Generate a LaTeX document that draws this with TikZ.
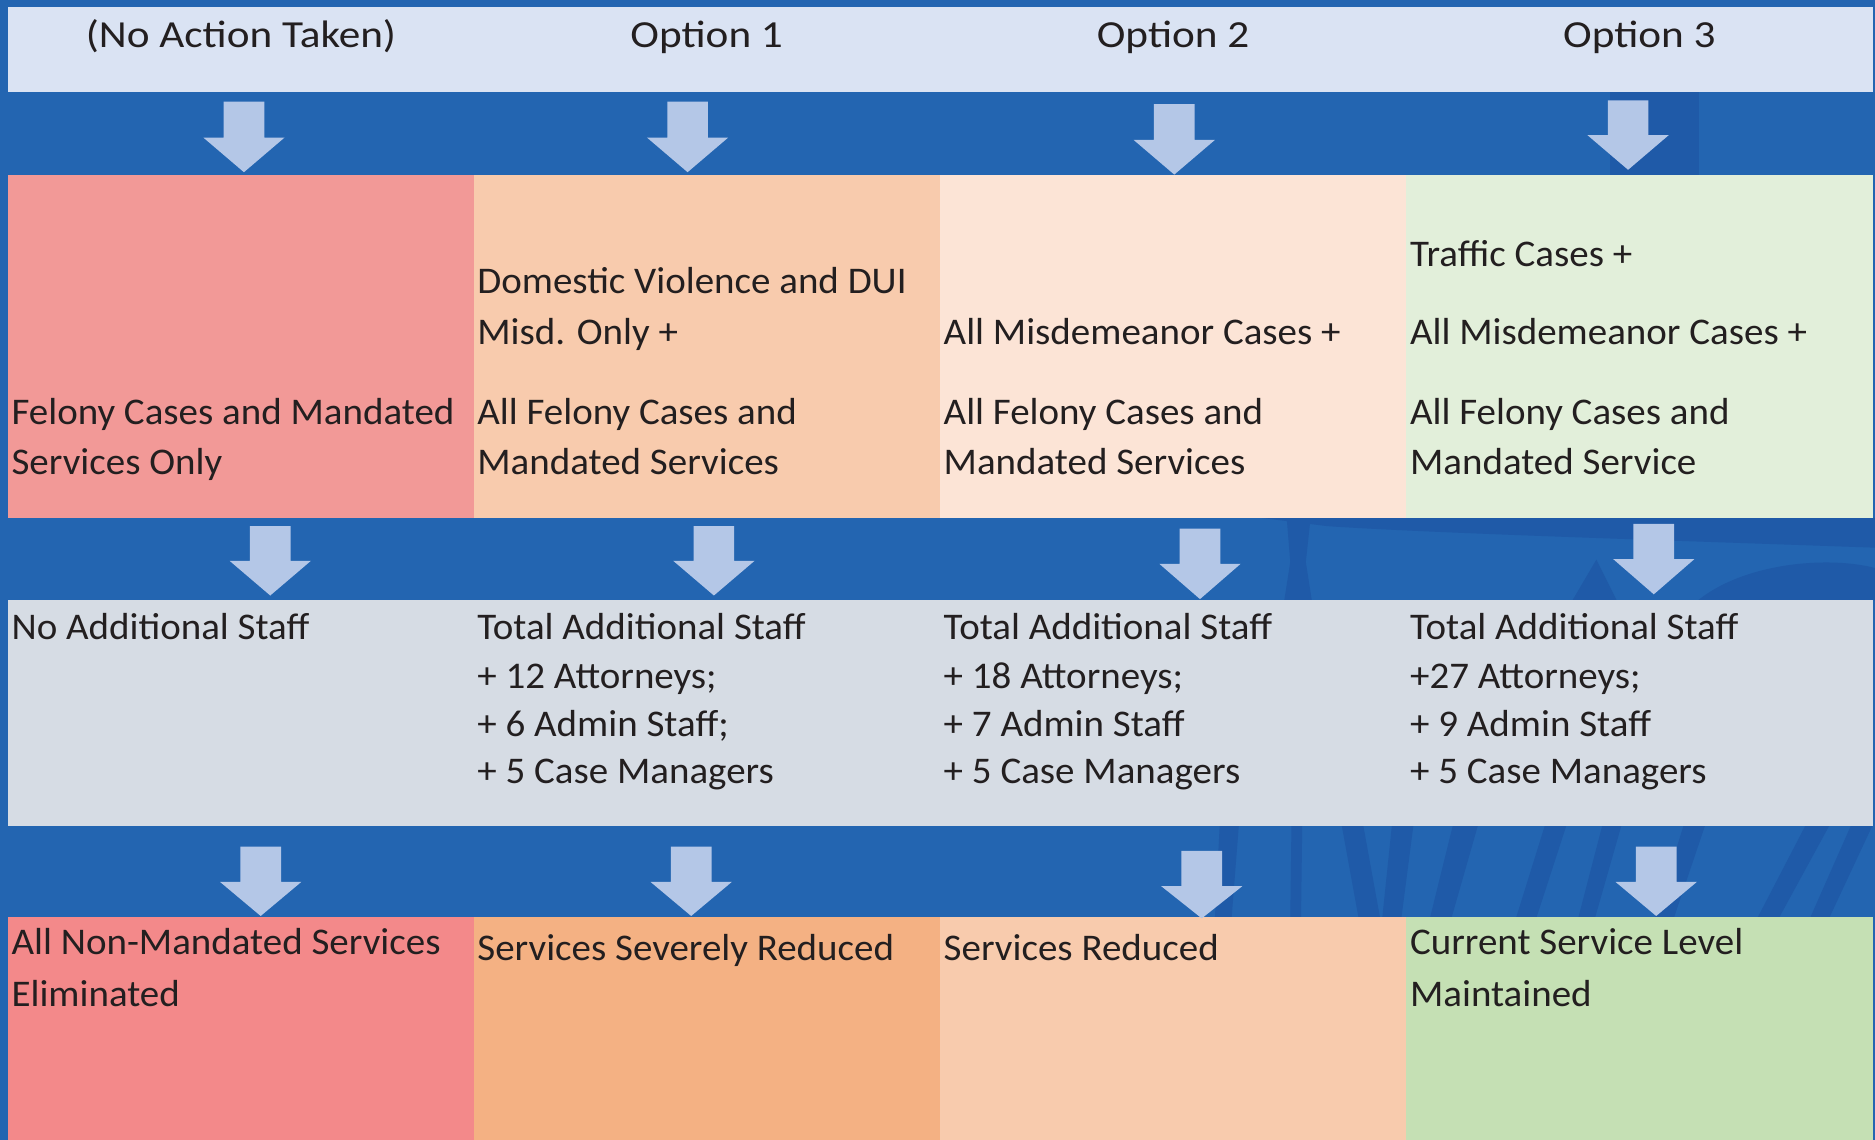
\documentclass[tikz,border=0pt]{standalone}
\usepackage{fontspec}
\setmainfont{Carlito}
\newfontfamily\bodyfont[FakeStretch=1.035]{Carlito}
\newfontfamily\hdrfont[FakeStretch=1.13]{Carlito}
\definecolor{bg}{HTML}{2365B1}
\definecolor{wm}{HTML}{1F5AA8}
\definecolor{hdr}{HTML}{DAE3F3}
\definecolor{arr}{HTML}{B4C7E7}
\definecolor{ink}{HTML}{231F20}
\definecolor{rA}{HTML}{F29997}
\definecolor{rB}{HTML}{F8CBAD}
\definecolor{rC}{HTML}{FCE4D6}
\definecolor{rD}{HTML}{E2EFDA}
\definecolor{gr}{HTML}{D6DCE4}
\definecolor{oA}{HTML}{F3898A}
\definecolor{oB}{HTML}{F4B183}
\definecolor{oC}{HTML}{F8CBAD}
\definecolor{oD}{HTML}{C5E0B4}
\newcommand\dnarrow[4]{\fill[blk] (#1-17,#2) -- (#1+17,#2) -- (#1+17,#3) -- (#1+34,#3) -- (#1,#4) -- (#1-34,#3) -- (#1-17,#3) -- cycle;}
\begin{document}
\begin{tikzpicture}[x=1pt,y=-1pt,
  box/.style={rectangle, inner sep=0pt, outer sep=0pt, anchor=north west, draw=none},
  txt/.style={inner sep=0pt, anchor=base west, font=\bodyfont\fontsize{31.5}{40}\selectfont, text=ink},
  hdrtxt/.style={inner sep=0pt, anchor=base, font=\hdrfont\fontsize{32}{38}\selectfont, text=ink},
  blk/.style={fill=arr, draw=none},
  wmark/.style={fill=wm, draw=none}]
\useasboundingbox (0,0) rectangle (1568,953);
\fill[bg] (0,0) rectangle (1568,953);
% faint background artwork
\fill[wmark] (1346,77) rectangle (1421,146);
\fill[wmark] (1054,433) -- (1568,433) -- (1568,458) .. controls (1400,452) and (1200,446) .. (1110,440) -- cycle;
\fill[wmark] (1076,433) -- (1096,433) -- (1092,470) -- (1097,502) -- (1074,502) -- (1079,470) -- cycle;
\fill[wmark] (1315,502) -- (1335,468) -- (1352,502) -- cycle;
\fill[wmark] (1420,502) .. controls (1460,470) and (1530,465) .. (1568,475) -- (1568,502) -- cycle;
\fill[wmark] (1020,690) -- (1036,690) -- (1030,767) -- (1016,767) -- cycle;
\fill[wmark] (1080,690) -- (1089,690) -- (1088,767) -- (1079,767) -- cycle;
\fill[wmark] (1122,690) -- (1140,690) -- (1154,767) -- (1136,767) -- cycle;
\fill[wmark] (1164,690) -- (1182,690) -- (1172,767) -- (1156,767) -- cycle;
\fill[wmark] (1215,690) -- (1236,690) -- (1214,767) -- (1196,767) -- cycle;
\fill[wmark] (1292,690) -- (1310,690) -- (1285,767) -- (1268,767) -- cycle;
\fill[wmark] (1340,690) -- (1356,690) -- (1334,767) -- (1320,767) -- cycle;
\fill[wmark] (1408,690) -- (1426,690) -- (1400,767) -- (1384,767) -- cycle;
\fill[wmark] (1510,690) -- (1530,690) -- (1488,767) -- (1470,767) -- cycle;
\fill[wmark] (1548,690) -- (1566,690) -- (1530,767) -- (1514,767) -- cycle;
% header row
\node[box, fill=hdr, minimum width=389pt, minimum height=71pt] (h1) at (7,6) {};
\node[box, fill=hdr, minimum width=390pt, minimum height=71pt] (h2) at (396,6) {};
\node[box, fill=hdr, minimum width=390pt, minimum height=71pt] (h3) at (786,6) {};
\node[box, fill=hdr, minimum width=390.5pt, minimum height=71pt] (h4) at (1176,6) {};
\node[hdrtxt] (ht1) at (201.5,40) {(No Action Taken)};
\node[hdrtxt] (ht2) at (591,40) {Option 1};
\node[hdrtxt] (ht3) at (981,40) {Option 2};
\node[hdrtxt] (ht4) at (1371,40) {Option 3};
% row 2: cases
\node[box, fill=rA, minimum width=389pt, minimum height=287pt] (c1) at (7,146) {};
\node[box, fill=rB, minimum width=390pt, minimum height=287pt] (c2) at (396,146) {};
\node[box, fill=rC, minimum width=390pt, minimum height=287pt] (c3) at (786,146) {};
\node[box, fill=rD, minimum width=390.5pt, minimum height=287pt] (c4) at (1176,146) {};
\node[txt] (c1a) at (9.5,355.4) {Felony Cases and Mandated};
\node[txt] (c1b) at (9.5,397) {Services Only};
\node[txt] (c2a) at (399,245.5) {Domestic Violence and DUI};
\node[txt] (c2b) at (399,288.5) {Misd. Only +};
\node[txt] (c2c) at (399,355.4) {All Felony Cases and};
\node[txt] (c2d) at (399,397) {Mandated Services};
\node[txt] (c3b) at (789,288.5) {All Misdemeanor Cases +};
\node[txt] (c3c) at (789,355.4) {All Felony Cases and};
\node[txt] (c3d) at (789,397) {Mandated Services};
\node[txt] (c4a) at (1179,222.5) {Traffic Cases +};
\node[txt] (c4b) at (1179,288.5) {All Misdemeanor Cases +};
\node[txt] (c4c) at (1179,355.4) {All Felony Cases and};
\node[txt] (c4d) at (1179,397) {Mandated Service};
% row 3: staff
\node[box, fill=gr, minimum width=1559.5pt, minimum height=188.5pt] (s0) at (7,502) {};
\node[txt] (s1a) at (9.5,535) {No Additional Staff};
\node[txt] (s2a) at (399,535) {Total Additional Staff};
\node[txt] (s2b) at (399,575.4) {+ 12 Attorneys;};
\node[txt] (s2c) at (399,615.5) {+ 6 Admin Staff;};
\node[txt] (s2d) at (399,655) {+ 5 Case Managers};
\node[txt] (s3a) at (789,535) {Total Additional Staff};
\node[txt] (s3b) at (789,575.4) {+ 18 Attorneys;};
\node[txt] (s3c) at (789,615.5) {+ 7 Admin Staff};
\node[txt] (s3d) at (789,655) {+ 5 Case Managers};
\node[txt] (s4a) at (1179,535) {Total Additional Staff};
\node[txt] (s4b) at (1179,575.4) {+27 Attorneys;};
\node[txt] (s4c) at (1179,615.5) {+ 9 Admin Staff};
\node[txt] (s4d) at (1179,655) {+ 5 Case Managers};
% row 4: outcomes
\node[box, fill=oA, minimum width=389pt, minimum height=187pt] (o1) at (7,767) {};
\node[box, fill=oB, minimum width=390pt, minimum height=187pt] (o2) at (396,767) {};
\node[box, fill=oC, minimum width=390pt, minimum height=187pt] (o3) at (786,767) {};
\node[box, fill=oD, minimum width=390.5pt, minimum height=187pt] (o4) at (1176,767) {};
\node[txt] (o1a) at (9.5,798.6) {All Non-Mandated Services};
\node[txt] (o1b) at (9.5,842) {Eliminated};
\node[txt] (o2a) at (399,803) {Services Severely Reduced};
\node[txt] (o3a) at (789,803) {Services Reduced};
\node[txt] (o4a) at (1179,798.6) {Current Service Level};
\node[txt] (o4b) at (1179,842) {Maintained};
% block arrows
\dnarrow{204}{85}{115}{144}
\dnarrow{575}{85}{115}{144}
\dnarrow{982}{87}{117}{146}
\dnarrow{1361.5}{84}{113}{142}
\dnarrow{226}{440}{469}{498}
\dnarrow{597}{440}{469}{498}
\dnarrow{1003.5}{442}{471.5}{501}
\dnarrow{1383}{438}{467.5}{497}
\dnarrow{218}{708}{737.5}{766}
\dnarrow{578}{708}{737.5}{766}
\dnarrow{1005}{711.5}{741}{768}
\dnarrow{1385}{708}{737.5}{766}
\end{tikzpicture}
\end{document}
